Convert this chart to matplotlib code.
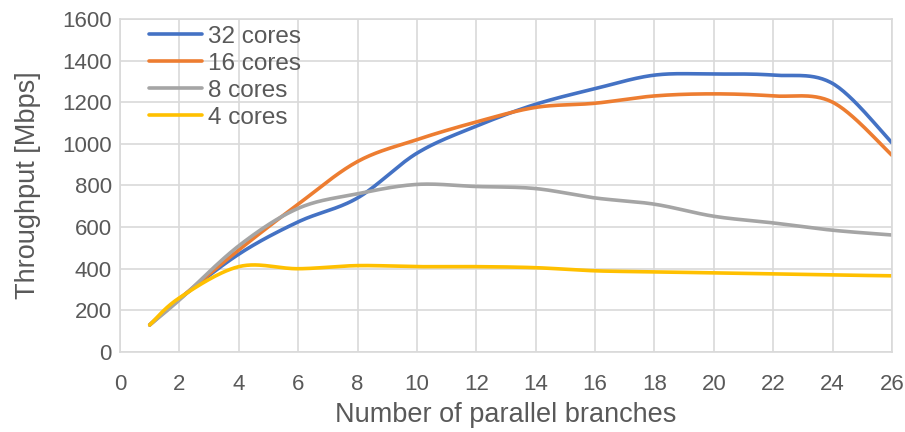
import numpy as np
import matplotlib.pyplot as plt

branches = [1, 2, 4, 6, 8, 10, 12, 14, 16, 18, 20, 22, 24, 26]
cores_32 = [130, 255, 470, 625, 740, 955, 1085, 1190, 1265, 1330, 1335, 1330, 1290, 1005]
cores_16 = [130, 255, 490, 710, 915, 1020, 1105, 1175, 1195, 1230, 1240, 1230, 1200, 945]
cores_8 = [130, 250, 510, 690, 760, 805, 795, 785, 740, 710, 652, 620, 585, 562]
cores_4 = [130, 260, 410, 400, 415, 410, 410, 405, 390, 385, 380, 375, 370, 366]

series = [("32 cores", cores_32, "#4472C4"),
          ("16 cores", cores_16, "#ED7D31"),
          ("8 cores", cores_8, "#A5A5A5"),
          ("4 cores", cores_4, "#FFC000")]


def smooth(xs, ys, n=30):
    # Excel-style smoothed line: Bezier segments, control points from neighbours
    xs = np.asarray(xs, float)
    ys = np.asarray(ys, float)
    px = np.concatenate([[xs[0]], xs, [xs[-1]]])
    py = np.concatenate([[ys[0]], ys, [ys[-1]]])
    out_x, out_y = [], []
    t = np.linspace(0, 1, n)
    for i in range(1, len(px) - 2):
        p0 = np.array([px[i], py[i]])
        p3 = np.array([px[i + 1], py[i + 1]])
        c1 = p0 + (np.array([px[i + 1], py[i + 1]]) - np.array([px[i - 1], py[i - 1]])) / 6
        c2 = p3 - (np.array([px[i + 2], py[i + 2]]) - np.array([px[i], py[i]])) / 6
        b = ((1 - t) ** 3)[:, None] * p0 + (3 * (1 - t) ** 2 * t)[:, None] * c1 \
            + (3 * (1 - t) * t ** 2)[:, None] * c2 + (t ** 3)[:, None] * p3
        out_x.extend(b[:, 0])
        out_y.extend(b[:, 1])
    return out_x, out_y


plt.rcParams['font.family'] = ['Liberation Sans', 'DejaVu Sans']
fig = plt.figure(figsize=(9.05, 4.32), dpi=100)
ax = fig.add_axes([0.1326, 0.1852, 0.853, 0.771])

for name, vals, col in series:
    sx, sy = smooth(branches, vals)
    ax.plot(sx, sy, color=col, lw=2.6, label=name, solid_capstyle='round')

ax.set_xlim(0, 26)
ax.set_ylim(0, 1600)
ax.set_xticks(range(0, 27, 2))
ax.set_yticks(range(0, 1601, 200))
ax.grid(True, color='#d9d9d9', lw=1.2)
ax.set_axisbelow(True)
for s in ax.spines.values():
    s.set_color('#d9d9d9')
    s.set_linewidth(1.2)
ax.tick_params(length=0, labelsize=16, colors='#595959')
ax.tick_params(axis='y', pad=6)
ax.tick_params(axis='x', pad=16)
ax.set_xlabel('Number of parallel branches', fontsize=19.5, color='#595959', labelpad=5)
ax.set_ylabel('Throughput [Mbps]', fontsize=19.5, color='#595959', labelpad=15)

leg = ax.legend(loc='upper left', bbox_to_anchor=(0.015, 1.03), frameon=False, fontsize=17.5,
                handlelength=2.2, handletextpad=0.25, labelspacing=0.2, borderaxespad=0.3)
for t in leg.get_texts():
    t.set_color('#595959')

fig.savefig('out.png', dpi=100)
